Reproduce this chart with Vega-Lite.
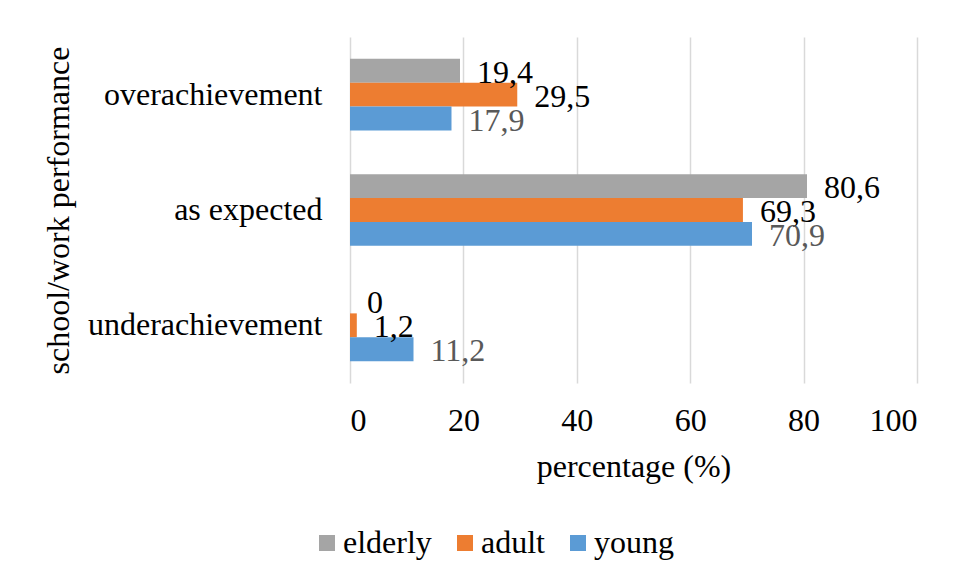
{
  "$schema": "https://vega.github.io/schema/vega-lite/v6.json",
  "width": 567,
  "height": 346,
  "autosize": {"type": "none"},
  "padding": {"left": 350, "top": 37, "right": 40, "bottom": 196},
  "background": "white",
  "config": {
    "font": "Liberation Serif",
    "locale": {
      "number": {"decimal": ",", "thousands": ".", "grouping": [3], "currency": ["", " €"]}
    },
    "view": {"stroke": null},
    "axis": {
      "labelFont": "Liberation Serif",
      "titleFont": "Liberation Serif",
      "labelFontSize": 32,
      "titleFontSize": 32,
      "titleFontWeight": "normal",
      "labelColor": "#000000",
      "titleColor": "#000000",
      "labelLimit": 400,
      "ticks": false,
      "domain": false
    },
    "legend": {
      "labelFont": "Liberation Serif",
      "labelFontSize": 32,
      "labelColor": "#000000"
    }
  },
  "data": {
    "values": [
      {"performance": "overachievement", "group": "elderly", "value": 19.4},
      {"performance": "overachievement", "group": "adult", "value": 29.5},
      {"performance": "overachievement", "group": "young", "value": 17.9},
      {"performance": "as expected", "group": "elderly", "value": 80.6},
      {"performance": "as expected", "group": "adult", "value": 69.3},
      {"performance": "as expected", "group": "young", "value": 70.9},
      {"performance": "underachievement", "group": "elderly", "value": 0},
      {"performance": "underachievement", "group": "adult", "value": 1.2},
      {"performance": "underachievement", "group": "young", "value": 11.2}
    ]
  },
  "encoding": {
    "y": {
      "field": "performance",
      "type": "nominal",
      "sort": ["overachievement", "as expected", "underachievement"],
      "scale": {"paddingInner": 0.378, "paddingOuter": 0.189},
      "axis": {
        "title": "school/work performance",
        "labelPadding": 28,
        "titleX": -275,
        "titleBaseline": "bottom",
        "grid": false
      }
    },
    "yOffset": {
      "field": "group",
      "type": "nominal",
      "sort": ["elderly", "adult", "young"],
      "scale": {"paddingInner": 0, "paddingOuter": 0}
    },
    "x": {
      "field": "value",
      "type": "quantitative",
      "scale": {"domain": [0, 100], "nice": false},
      "axis": {
        "title": "percentage (%)",
        "values": [0, 20, 40, 60, 80, 100],
        "grid": true,
        "gridColor": "#d9d9d9",
        "gridWidth": 1.5,
        "labelPadding": 22,
        "titlePadding": 15
      }
    }
  },
  "layer": [
    {
      "mark": {"type": "bar"},
      "encoding": {
        "color": {
          "field": "group",
          "type": "nominal",
          "sort": ["elderly", "adult", "young"],
          "scale": {
            "domain": ["elderly", "adult", "young"],
            "range": ["#A5A5A5", "#ED7D31", "#5B9BD5"]
          },
          "legend": {
            "title": null,
            "orient": "none",
            "direction": "horizontal",
            "legendX": -39,
            "legendY": 490,
            "symbolType": "square",
            "symbolSize": 256,
            "symbolStrokeWidth": 0,
            "labelOffset": 0,
            "columnPadding": 17
          }
        }
      }
    },
    {
      "mark": {"type": "text", "align": "left", "baseline": "middle", "dx": 17, "dy": 2, "fontSize": 32},
      "encoding": {
        "text": {"field": "value", "type": "quantitative", "format": ".1~f"},
        "color": {
          "condition": {"test": "datum.group === 'young'", "value": "#595959"},
          "value": "#000000"
        }
      }
    }
  ]
}
